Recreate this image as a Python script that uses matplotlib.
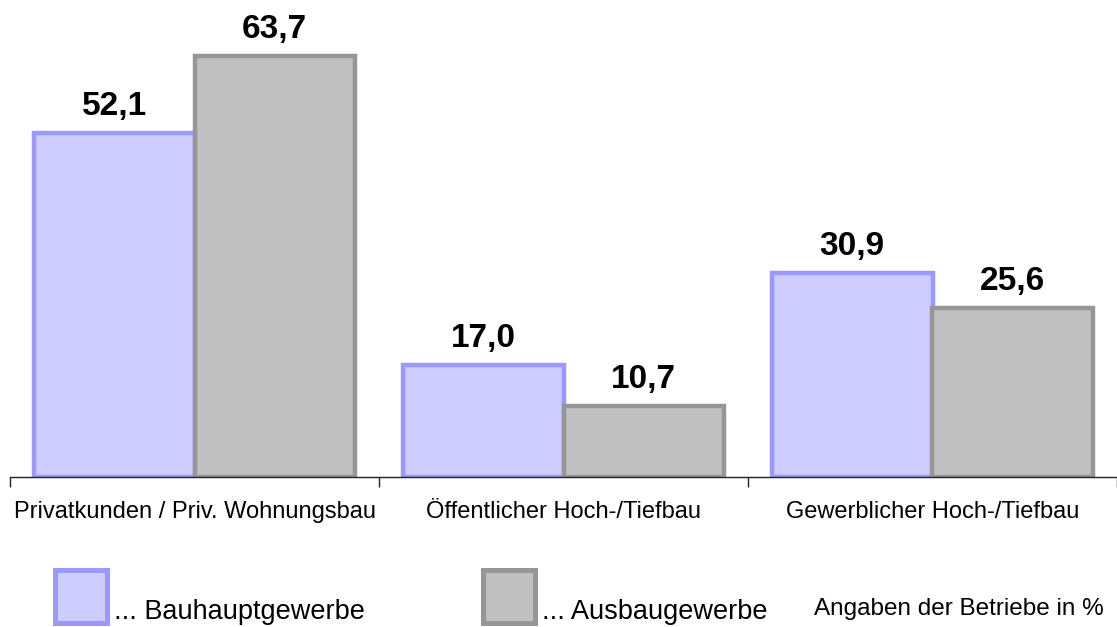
import matplotlib
matplotlib.use("Agg")
import matplotlib.pyplot as plt
from matplotlib.patches import Rectangle
import numpy as np

categories = ["Privatkunden / Priv. Wohnungsbau", "Öffentlicher Hoch-/Tiefbau", "Gewerblicher Hoch-/Tiefbau"]
bauhaupt = [52.1, 17.0, 30.9]
ausbau = [63.7, 10.7, 25.6]
series_names = ["... Bauhauptgewerbe", "... Ausbaugewerbe"]
note = "Angaben der Betriebe in %"

FONT = ["Liberation Sans", "DejaVu Sans"]

BLUE_FILL, BLUE_EDGE = "#CCCCFF", "#9999FF"
GRAY_FILL, GRAY_EDGE = "#C0C0C0", "#969696"

fig = plt.figure(figsize=(11.17, 6.27), dpi=100)
ax = fig.add_axes([10 / 1117, 1 - 477 / 627, 1107 / 1117, 477 / 627])

x = np.arange(len(categories))
w = 0.435
ax.bar(x - w / 2, bauhaupt, w, color=BLUE_FILL, edgecolor=BLUE_EDGE, linewidth=3.2)
ax.bar(x + w / 2, ausbau, w, color=GRAY_FILL, edgecolor=GRAY_EDGE, linewidth=3.2)

# value labels above the bars, German decimal comma
for offs, vals in [(-w / 2, bauhaupt), (w / 2, ausbau)]:
    for xi, v in zip(x + offs, vals):
        ax.text(xi, v + 2.7, f"{v:.1f}".replace(".", ","), ha="center", va="baseline",
                fontsize=24, fontweight="bold", family=FONT)

ax.set_xlim(-0.5, -0.5 + 1107 / 371.5)
ax.set_ylim(0, 72.2)
ax.set_yticks([])
for side in ["left", "right", "top"]:
    ax.spines[side].set_visible(False)
ax.spines["bottom"].set_color("#222222")
ax.spines["bottom"].set_linewidth(1.0)

ax.set_xticks(x)
ax.set_xticklabels(categories, family=FONT, fontsize=17)
ax.tick_params(axis="x", which="major", length=0, pad=17)
ax.set_xticks(np.arange(-0.5, len(categories)), minor=True)
ax.tick_params(axis="x", which="minor", length=7, width=1, color="#222222", direction="out")

# legend drawn by hand, as in the original
for left, fill, edge, label in [(54.5, BLUE_FILL, BLUE_EDGE, series_names[0]),
                                (482.5, GRAY_FILL, GRAY_EDGE, series_names[1])]:
    fig.patches.append(Rectangle((left / 1117, 1 - 622.5 / 627), 52 / 1117, 53 / 627,
                                 transform=fig.transFigure, facecolor=fill, edgecolor=edge,
                                 linewidth=3.6))
    fig.text((left + 60) / 1117, 1 - 619 / 627, label, family=FONT, fontsize=19.5,
             va="baseline", ha="left")
fig.text(1104 / 1117, 1 - 615 / 627, note, family=FONT, fontsize=17.5, va="baseline", ha="right")

fig.savefig("out.png", dpi=100, facecolor="white")
